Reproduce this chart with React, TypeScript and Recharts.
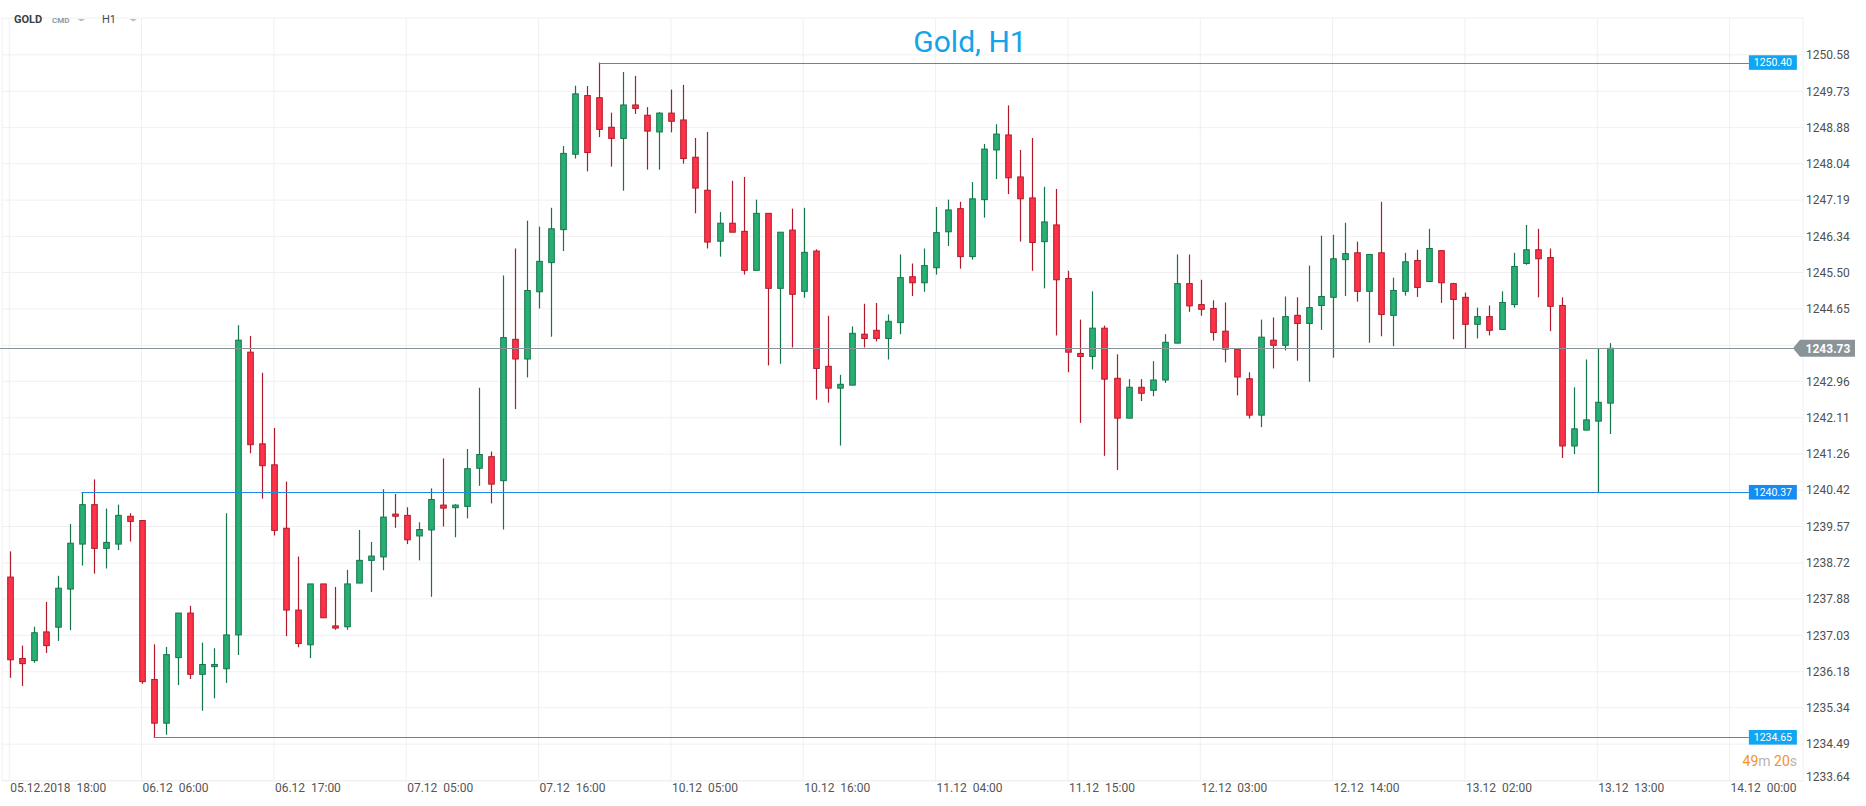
import {
  Bar,
  CartesianGrid,
  ComposedChart,
  ReferenceLine,
  XAxis,
  YAxis,
} from "recharts";

// hourly candles, 05.12 18:00 -> 13.12 13:00
const opens = [
  1238.39, 1236.49, 1236.44, 1237.11, 1237.22, 1238.11, 1239.16, 1240.08, 1239.06, 1239.16,
  1239.81, 1239.71, 1236.0, 1234.98, 1236.51, 1237.55, 1236.12, 1236.3, 1236.25, 1237.04,
  1243.64, 1241.5, 1241.01, 1239.53, 1237.62, 1236.81, 1238.23, 1237.25, 1237.23, 1238.25,
  1238.78, 1238.86, 1239.86, 1239.83, 1239.35, 1239.49, 1240.07, 1240.01, 1240.04, 1240.93,
  1241.2, 1240.64, 1243.94, 1243.48, 1245.05, 1245.73, 1246.5, 1248.26, 1249.63, 1249.58,
  1248.89, 1248.63, 1249.41, 1249.17, 1248.78, 1249.22, 1249.06, 1248.19, 1247.42, 1246.23,
  1246.65, 1246.46, 1245.55, 1246.88, 1245.13, 1246.49, 1245.06, 1246.0, 1243.31, 1242.8,
  1242.87, 1244.06, 1244.15, 1243.96, 1244.33, 1245.4, 1245.26, 1245.61, 1246.45, 1246.99,
  1245.87, 1247.2, 1248.36, 1248.71, 1247.73, 1247.24, 1246.22, 1246.61, 1245.36, 1243.61,
  1243.54, 1244.2, 1243.03, 1242.1, 1242.82, 1242.75, 1242.99, 1243.85, 1245.24, 1244.75,
  1244.66, 1244.13, 1243.71, 1243.02, 1242.17, 1243.92, 1243.8, 1244.5, 1244.31, 1244.73,
  1244.92, 1245.8, 1245.96, 1245.06, 1245.96, 1244.5, 1245.06, 1245.78, 1245.29, 1246.01,
  1245.24, 1244.92, 1244.29, 1244.47, 1244.17, 1244.75, 1245.71, 1246.03, 1245.85, 1244.73,
  1241.45, 1241.82, 1242.03, 1242.45,
];

const highs = [
  1238.99, 1236.79, 1237.23, 1237.81, 1238.42, 1239.63, 1240.37, 1240.67, 1239.99, 1240.08,
  1239.88, 1239.71, 1236.82, 1236.76, 1237.55, 1237.72, 1236.86, 1236.73, 1239.88, 1244.27,
  1244.02, 1243.16, 1241.87, 1240.62, 1238.87, 1238.23, 1238.23, 1238.16, 1238.56, 1239.49,
  1239.21, 1240.44, 1240.33, 1240.02, 1239.67, 1240.46, 1241.16, 1240.09, 1241.38, 1242.81,
  1241.32, 1245.43, 1246.06, 1246.71, 1246.57, 1247.01, 1248.45, 1249.86, 1249.85, 1250.4,
  1249.23, 1250.18, 1250.09, 1249.36, 1249.24, 1249.77, 1249.88, 1248.64, 1248.78, 1246.91,
  1247.64, 1247.73, 1247.2, 1246.88, 1246.44, 1246.99, 1247.01, 1246.04, 1244.49, 1243.11,
  1244.24, 1244.77, 1244.79, 1244.52, 1245.92, 1245.71, 1246.06, 1247.03, 1247.2, 1247.15,
  1247.61, 1248.5, 1248.96, 1249.4, 1248.36, 1248.64, 1247.5, 1247.45, 1245.54, 1244.4,
  1245.06, 1244.26, 1243.59, 1243.01, 1243.01, 1243.43, 1244.06, 1245.92, 1245.92, 1245.33,
  1244.85, 1244.8, 1243.73, 1243.17, 1244.4, 1244.45, 1244.94, 1244.92, 1245.66, 1246.36,
  1246.38, 1246.66, 1246.22, 1245.92, 1247.15, 1245.38, 1245.96, 1246.03, 1246.52, 1246.01,
  1245.26, 1245.03, 1244.68, 1244.73, 1245.06, 1245.96, 1246.61, 1246.52, 1246.06, 1244.92,
  1242.82, 1243.47, 1243.73, 1243.85,
];

const lows = [
  1236.04, 1235.85, 1236.39, 1236.62, 1236.9, 1237.15, 1238.66, 1238.47, 1238.59, 1239.02,
  1239.22, 1235.9, 1234.65, 1234.71, 1235.87, 1236.01, 1235.27, 1235.56, 1235.92, 1236.57,
  1241.28, 1240.22, 1239.36, 1237.01, 1236.75, 1236.5, 1237.44, 1237.16, 1237.16, 1238.25,
  1238.04, 1238.55, 1239.54, 1239.16, 1238.78, 1237.93, 1239.57, 1239.32, 1239.76, 1240.52,
  1240.11, 1239.5, 1242.31, 1243.05, 1244.66, 1244.0, 1246.0, 1248.16, 1247.86, 1248.66,
  1247.97, 1247.41, 1249.2, 1247.9, 1247.9, 1248.77, 1248.04, 1246.88, 1246.06, 1245.87,
  1246.44, 1245.45, 1245.55, 1243.33, 1243.37, 1243.75, 1244.91, 1242.53, 1242.46, 1241.46,
  1242.87, 1243.75, 1243.89, 1243.47, 1244.06, 1244.95, 1245.05, 1245.45, 1246.12, 1245.59,
  1245.8, 1246.78, 1247.68, 1247.33, 1246.22, 1245.54, 1245.13, 1244.03, 1243.17, 1241.99,
  1243.24, 1241.22, 1240.89, 1242.1, 1242.5, 1242.61, 1242.92, 1243.85, 1244.58, 1244.49,
  1243.91, 1243.4, 1242.63, 1242.09, 1241.89, 1243.26, 1243.68, 1243.44, 1242.95, 1244.16,
  1243.51, 1244.95, 1244.82, 1243.86, 1244.01, 1243.78, 1244.96, 1244.93, 1245.29, 1244.79,
  1243.94, 1243.73, 1243.96, 1244.03, 1244.17, 1244.68, 1245.68, 1244.92, 1244.13, 1241.17,
  1241.26, 1241.82, 1240.37, 1241.73,
];

const closes = [
  1236.46, 1236.37, 1237.09, 1236.79, 1238.13, 1239.18, 1240.08, 1239.06, 1239.2, 1239.83,
  1239.69, 1235.95, 1234.98, 1236.58, 1237.55, 1236.12, 1236.35, 1236.35, 1237.04, 1243.92,
  1241.48, 1240.99, 1239.48, 1237.62, 1236.84, 1238.23, 1237.44, 1237.2, 1238.23, 1238.78,
  1238.88, 1239.79, 1239.81, 1239.26, 1239.5, 1240.2, 1240.0, 1240.07, 1240.92, 1241.25,
  1240.56, 1243.98, 1243.48, 1245.08, 1245.76, 1246.52, 1248.28, 1249.67, 1248.3, 1248.84,
  1248.63, 1249.41, 1249.33, 1248.8, 1249.22, 1249.03, 1248.16, 1247.47, 1246.21, 1246.65,
  1246.44, 1245.55, 1246.88, 1245.13, 1246.44, 1244.99, 1245.97, 1243.26, 1242.8, 1242.89,
  1244.08, 1243.96, 1243.96, 1244.36, 1245.38, 1245.26, 1245.66, 1246.43, 1246.96, 1245.87,
  1247.22, 1248.38, 1248.73, 1247.71, 1247.22, 1246.2, 1246.68, 1245.33, 1243.64, 1243.54,
  1244.2, 1243.01, 1242.1, 1242.82, 1242.68, 1242.99, 1243.87, 1245.24, 1244.72, 1244.64,
  1244.1, 1243.71, 1243.06, 1242.17, 1243.99, 1243.8, 1244.47, 1244.31, 1244.68, 1244.94,
  1245.82, 1245.94, 1245.06, 1245.92, 1244.52, 1245.08, 1245.75, 1245.15, 1246.06, 1245.26,
  1244.87, 1244.29, 1244.47, 1244.15, 1244.8, 1245.64, 1246.03, 1245.82, 1244.71, 1241.45,
  1241.85, 1242.06, 1242.47, 1243.73,
];

// one label every 11 candles
const xTicks = [0, 11, 22, 33, 44, 55, 66, 77, 88, 99, 110, 121, 132, 143];
const xTickLabels = [
  "05.12.2018  18:00",
  "06.12  06:00",
  "06.12  17:00",
  "07.12  05:00",
  "07.12  16:00",
  "10.12  05:00",
  "10.12  16:00",
  "11.12  04:00",
  "11.12  15:00",
  "12.12  03:00",
  "12.12  14:00",
  "13.12  02:00",
  "13.12  13:00",
  "14.12  00:00",
];

const yTicks = [
  1250.58, 1249.73, 1248.88, 1248.04, 1247.19, 1246.34, 1245.5, 1244.65, 1243.8, 1242.96,
  1242.11, 1241.26, 1240.42, 1239.57, 1238.72, 1237.88, 1237.03, 1236.18, 1235.34, 1234.49,
  1233.64,
];

const lastPrice = 1243.73;
const levelValues = [1250.4, 1240.37, 1234.65];
const levelStarts = [49, 6, 12];

const data = opens.map((open, i) => ({
  i,
  open,
  high: highs[i],
  low: lows[i],
  close: closes[i],
  range: [lows[i], highs[i]],
}));

const X_DOMAIN: [number, number] = [-0.6, 149.1];
const LEVEL_END = 144.6;

const levelLineColors = ["#2299e0", "#1d87e6", "#2299e0"];
const levelBadgeColors = ["#12a5f2", "#168cf2", "#12a5f2"];

function Candle(props: any) {
  const { x, y, width, height, payload } = props;
  if (!payload || height == null) return null;
  const { open, close, high, low } = payload;
  const up = close >= open;
  const top = Math.min(y, y + height);
  const h = Math.abs(height);
  const ppu = h / (high - low || 1);
  const cx = Math.round(x + width / 2) + 0.5;
  const bodyTop = top + (high - Math.max(open, close)) * ppu;
  const bodyBottom = top + (high - Math.min(open, close)) * ppu;
  const fill = up ? "#27b074" : "#ff3347";
  const stroke = up ? "#15744a" : "#b11a2c";

  return (
    <g>
      <line x1={cx} y1={top} x2={cx} y2={top + h} stroke={stroke} strokeWidth={1.2} />
      <rect
        x={cx - 2.8}
        y={bodyTop}
        width={5.6}
        height={Math.max(bodyBottom - bodyTop, 1.5)}
        fill={fill}
        stroke={stroke}
        strokeWidth={1}
      />
    </g>
  );
}

function XTick(props: any) {
  const { x, y, payload } = props;
  const idx = xTicks.indexOf(payload.value);
  return (
    <text
      x={x + 1}
      y={y + 11}
      fontSize={12}
      fill="#555"
      textAnchor="start"
      style={{ whiteSpace: "pre" }}
    >
      {xTickLabels[idx]}
    </text>
  );
}

function YTick(props: any) {
  const { x, y, payload } = props;
  // the 1243.80 label sits under the last-price marker
  if (payload.value === 1243.8) return <g />;
  const shift = payload.value === 1233.64 ? -4 : 0;
  return (
    <text x={x} y={y + shift} dy="0.355em" fontSize={12} fill="#505050" textAnchor="start">
      {payload.value.toFixed(2)}
    </text>
  );
}

function levelShape(k: number) {
  return (p: any) => {
    const left = Math.min(p.x1, p.x2);
    const right = Math.max(p.x1, p.x2);
    const yy = p.y1;
    return (
      <g>
        <line
          x1={left}
          y1={Math.round(yy) + 0.5}
          x2={right}
          y2={Math.round(yy) + 0.5}
          stroke={levelLineColors[k]}
          strokeWidth={1}
        />
        <rect x={right} y={yy - 7.3} width={48} height={14.6} fill={levelBadgeColors[k]} />
        <text
          x={right + 24}
          y={yy}
          dy="0.36em"
          fontSize={10.5}
          fill="#fff"
          textAnchor="middle"
        >
          {levelValues[k].toFixed(2)}
        </text>
      </g>
    );
  };
}

function lastPriceShape(p: any) {
  const yy = p.y1;
  const left = Math.min(p.x1, p.x2);
  const right = Math.max(p.x1, p.x2);
  const tip = right - 10;
  return (
    <g>
      <line
        x1={left - 2}
        y1={Math.round(yy) + 0.5}
        x2={tip}
        y2={Math.round(yy) + 0.5}
        stroke="#8a9397"
        strokeWidth={1}
      />
      <polygon
        points={`${tip},${yy} ${tip + 7},${yy - 8.5} ${tip + 62},${yy - 8.5} ${tip + 62},${yy + 8.5} ${tip + 7},${yy + 8.5}`}
        fill="#8a9397"
      />
      <text
        x={tip + 35}
        y={yy}
        dy="0.36em"
        fontSize={12}
        fontWeight={700}
        fill="#fff"
        textAnchor="middle"
      >
        {lastPrice.toFixed(2)}
      </text>
    </g>
  );
}

export default function App() {
  return (
    <div
      style={{
        position: "absolute",
        left: 0,
        top: 0,
        width: 1866,
        height: 806,
        background: "#fff",
        fontFamily: "Roboto, 'Noto Sans', sans-serif",
      }}
    >
      <ComposedChart
        width={1866}
        height={806}
        data={data}
        margin={{ top: 18, right: 0, left: 2, bottom: 0 }}
      >
        <CartesianGrid stroke="#f0f0f0" strokeWidth={1} />

        <XAxis
          dataKey="i"
          type="number"
          domain={X_DOMAIN}
          allowDataOverflow
          ticks={xTicks}
          interval={0}
          tick={XTick}
          tickSize={0}
          tickMargin={0}
          axisLine={false}
          tickLine={false}
          height={25}
        />

        <YAxis
          orientation="right"
          type="number"
          domain={[1233.63, 1251.44]}
          allowDataOverflow
          ticks={yTicks}
          interval={0}
          tick={YTick}
          tickSize={0}
          tickMargin={3}
          axisLine={false}
          tickLine={false}
          width={63}
        />

        <ReferenceLine y={lastPrice} shape={lastPriceShape} ifOverflow="visible" />

        {levelValues.map((v, k) => (
          <ReferenceLine
            key={v}
            segment={[
              { x: levelStarts[k], y: v },
              { x: LEVEL_END, y: v },
            ]}
            shape={levelShape(k)}
            ifOverflow="visible"
          />
        ))}

        <Bar
          dataKey="range"
          barSize={7}
          shape={Candle}
          isAnimationActive={false}
        />
      </ComposedChart>

      <svg
        width={1866}
        height={806}
        style={{ position: "absolute", left: 0, top: 0, pointerEvents: "none" }}
      >
        <text x={14} y={23} fontSize={11} fontWeight={700} fill="#3a3f44">
          GOLD
        </text>
        <text x={52} y={22.5} fontSize={8} fontWeight={700} fill="#8d9aa6">
          CMD
        </text>
        <polygon points="77.5,19 85,19 81.25,21.5" fill="#b8bcc0" />
        <text x={102} y={23} fontSize={11} fill="#444a50">
          H1
        </text>
        <polygon points="129.5,19 137,19 133.25,21.5" fill="#b8bcc0" />

        <text x={970} y={51.5} fontSize={30} fill="#14a3ea" textAnchor="middle">
          Gold, H1
        </text>

        <text x={1797} y={766} fontSize={14} textAnchor="end">
          <tspan fill="#f5931f">49</tspan>
          <tspan fill="#b5b5b5">m </tspan>
          <tspan fill="#f5931f">20</tspan>
          <tspan fill="#b5b5b5">s</tspan>
        </text>
      </svg>
    </div>
  );
}
